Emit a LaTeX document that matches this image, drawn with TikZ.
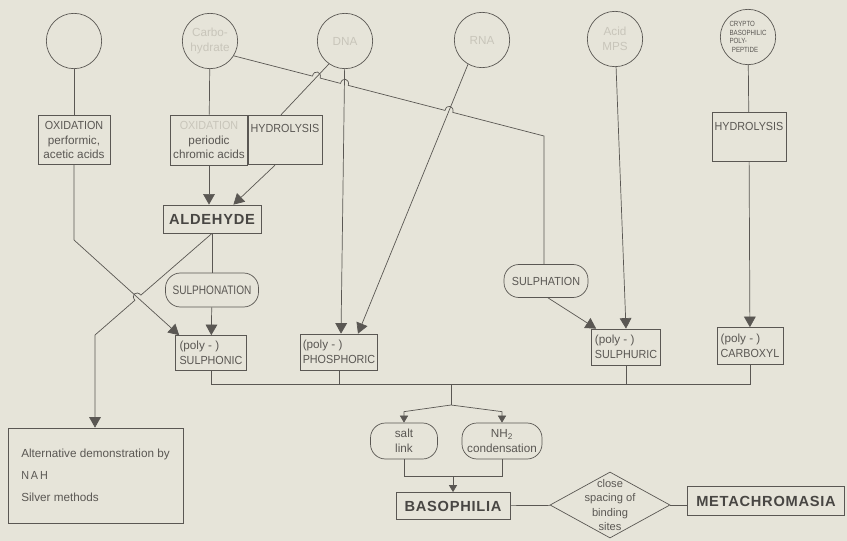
\documentclass[tikz,border=0pt]{standalone}
\usepackage{fontspec}
\setmainfont{Liberation Sans}
\newfontfamily\capsfont{Liberation Sans}[FakeStretch=0.92]
\newfontfamily\narrowfont{Liberation Sans}[FakeStretch=0.82]
\newfontfamily\boldlabel{Liberation Sans}[LetterSpace=5]
\usetikzlibrary{arrows.meta,calc,shapes.geometric}
\definecolor{paper}{HTML}{E6E4D9}
\definecolor{ink}{HTML}{5A5753}
\definecolor{inkdark}{HTML}{484643}
\definecolor{faint}{HTML}{C8C5BA}

\begin{document}
\begin{tikzpicture}[x=0.03cm,y=-0.03cm,
  every node/.style={text=ink,font=\fontsize{10}{12.5}\selectfont},
  circ/.style={circle,draw=ink,line width=0.6pt,minimum size=1.66cm,inner sep=0pt,align=center},
  box/.style={draw=ink,line width=0.6pt,inner sep=2pt,align=center},
  blob/.style={draw=ink,line width=0.6pt,rounded corners=0.45cm,inner sep=2pt,align=center},
  result/.style={draw=ink,line width=0.7pt,inner sep=2pt,text=inkdark,
    font=\boldlabel\bfseries\fontsize{12.5}{14}\selectfont},
  decision/.style={diamond,draw=ink,line width=0.6pt,minimum width=3.6cm,minimum height=1.98cm,inner sep=0pt},
  link/.style={draw=ink,line width=0.6pt},
  hop/.style={bend left=90,looseness=2.2},
  big/.style={-{Triangle[length=9pt,width=10pt]}},
  small/.style={-{Triangle[length=6pt,width=7pt]}}]
\fill[paper] (0,0) rectangle (847,541);
\useasboundingbox (0,0) rectangle (847,541);

% starting materials
\node[circ] (c1) at (74,41) {};
\node[circ,text=faint] (c2) at (210,41) {Carbo-\\hydrate};
\node[circ,text=faint] (c3) at (345,41) {DNA};
\node[circ,text=faint] (c4) at (482,40) {RNA};
\node[circ,text=faint] (c5) at (615,39) {Acid\\MPS};
\node[circ,align=left,font=\narrowfont\fontsize{6.4}{7.2}\selectfont] (c6) at (748,37)
  {CRYPTO\\BASOPHILIC\\POLY-\\\hspace{2pt}PEPTIDE};

% treatments
\node[box,minimum width=2.16cm,minimum height=1.47cm] (oxid) at (74,140)
  {{\capsfont OXIDATION}\\performic,\\acetic acids};
\node[box,minimum width=2.19cm,minimum height=1.5cm] (periodic) at (209,140)
  {\textcolor{faint}{\capsfont OXIDATION}\\periodic\\chromic acids};
\node[box,minimum width=2.22cm,text height=0.45cm,text depth=0.9cm,
  font=\capsfont\fontsize{10}{12}\selectfont] (hydro1) at (285,140) {HYDROLYSIS};
\node[box,minimum width=2.22cm,text height=0.47cm,text depth=0.84cm,
  font=\capsfont\fontsize{10}{12}\selectfont] (hydro2) at (749,137) {HYDROLYSIS};
\node[result,minimum width=2.94cm,minimum height=0.84cm] (aldehyde) at (212,219) {ALDEHYDE};
\node[blob,minimum width=2.79cm,minimum height=1.02cm,
  font=\narrowfont\fontsize{10.5}{12}\selectfont] (sulphonation) at (212,290) {SULPHONATION};
\node[blob,minimum width=2.52cm,minimum height=0.99cm,
  font=\capsfont\fontsize{10}{12}\selectfont] (sulphation) at (546,281) {SULPHATION};

% acid groups
\node[box,align=left,minimum width=2.13cm,minimum height=1.05cm] (sulphonic) at (211,353)
  {(poly - )\\{\capsfont SULPHONIC}};
\node[box,align=left,minimum width=2.28cm,minimum height=1.08cm] (phosphoric) at (339,352)
  {(poly - )\\{\capsfont PHOSPHORIC}};
\node[box,align=left,minimum width=2.07cm,minimum height=1.08cm] (sulphuric) at (626,347)
  {(poly - )\\{\capsfont SULPHURIC}};
\node[box,align=left,minimum width=1.98cm,minimum height=1.11cm] (carboxyl) at (750,346)
  {(poly - )\\{\capsfont CARBOXYL}};
\node[box,align=left,minimum width=5.25cm,minimum height=2.85cm,
  font=\fontsize{10}{19}\selectfont] (alt) at (95.5,475.5)
  {Alternative demonstration by\\{\capsfont N\,A\,H}\\Silver methods};

% binding
\node[blob,minimum width=2.01cm,minimum height=1.08cm] (salt) at (404,441) {salt\\link};
\node[blob,minimum width=2.4cm,minimum height=1.08cm] (nh2) at (502,441) {NH\textsubscript{2}\\condensation};
\node[result,minimum width=3.42cm,minimum height=0.81cm] (basophilia) at (453,506) {BASOPHILIA};
\node[decision] (spacing) at (610,505) {};
\node[align=center,font=\fontsize{9.5}{12}\selectfont] (spacingtext) at (spacing) {close\\spacing of\\binding\\sites};
\node[result,minimum width=4.71cm,minimum height=0.87cm] (metachromasia) at (766,501) {METACHROMASIA};

% connectors
\coordinate (oxbend) at (74,240);
\coordinate (sulcorner) at (544,136);
\coordinate (altbend) at (95,335);
\coordinate (bus) at (451,384);
\coordinate (split) at (451,405);
\coordinate (merge) at (453,476);

\draw[link] (c1) -- (oxid);
\draw[link,big] (oxid) -- (oxbend) -- ($(sulphonic.north west)+(4,0)$);
\draw[link] (c2) -- (periodic);
\draw[link,big] (periodic) -- (periodic |- aldehyde.north);
\draw[link] (c3.235) -- ($(hydro1.north)+(-4,0)$);
\draw[link,big] ($(hydro1.south)+(-10,0)$) -- ($(aldehyde.north east)+(-28,0)$);
\draw[link,big] (c3) -- ($(phosphoric.north)+(2,0)$);
\draw[link,big] (c4.240) -- ($(phosphoric.north)+(19,0)$);
\draw[link] (c2.-32) -- (312.4,76.1) to[hop] (320.2,78.1)
  -- (340.5,83.4) to[hop] (348.3,85.4)
  -- (445,110.4) to[hop] (452.8,112.4)
  -- (sulcorner) -- (sulcorner |- sulphation.north);
\draw[link,big] ($(sulphation.south)+(2,0)$) -- ($(sulphuric.north west)+(5,0)$);
\draw[link,big] (c5) -- (sulphuric.north);
\draw[link] (c6) -- (hydro2);
\draw[link,big] (hydro2) -- (carboxyl);
\draw[link] (aldehyde) -- (sulphonation);
\draw[link,big] (sulphonation) -- (sulphonic);
\draw[link,big] (aldehyde.south) -- (140.9,295.1) to[hop,bend right=90] (134.9,300.3)
  -- (altbend) -- (alt.north -| altbend);

\draw[link] (sulphonic) -- (sulphonic.south |- bus) -- (carboxyl.south |- bus) -- (carboxyl);
\draw[link] (phosphoric) -- (phosphoric.south |- bus);
\draw[link] (sulphuric) -- (sulphuric.south |- bus);
\draw[link] (bus) -- (split);
\draw[link,small] (split) -- ($(salt.north)+(0,-11)$) -- (salt.north);
\draw[link,small] (split) -- ($(nh2.north)+(0,-11)$) -- (nh2.north);
\draw[link] (salt) -- (salt.south |- merge) -- (nh2.south |- merge) -- (nh2);
\draw[link,small] (merge) -- (basophilia);
\draw[link] (basophilia) -- (spacing);
\draw[link] (spacing) -- (spacing.east -| metachromasia.west);
\end{tikzpicture}
\end{document}
